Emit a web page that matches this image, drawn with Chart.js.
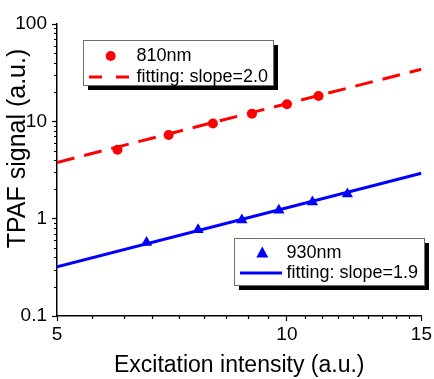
<!DOCTYPE html>
<html>
<head>
<meta charset="utf-8">
<script src="https://cdn.jsdelivr.net/npm/chart.js@4/dist/chart.umd.min.js"></script>
<style>
  html, body { margin: 0; padding: 0; background: #fff; }
  #wrap { width: 434px; height: 379px; }
</style>
</head>
<body>
<div id="wrap"><canvas id="c" width="434" height="379"></canvas></div>
<script>
// ---- data ----
const x810 = [6, 7, 8, 9, 10, 11];
const y810 = [5.1, 7.25, 9.5, 12.0, 15.0, 18.2];
const x930 = [6.55, 7.65, 8.73, 9.76, 10.8, 12.0];
const y930 = [0.57, 0.77, 0.97, 1.22, 1.48, 1.79];
const fitX = [5, 15];
const fit810 = [3.78, 34.3];
const fit930 = [0.32, 2.93];
const xTickLabels = ['5', '10', '15'];
const xMajor = [5, 10, 15];
const yTickLabels = ['0.1', '1', '10', '100'];
const yMajor = [0.1, 1, 10, 100];
const legend1 = ['810nm', 'fitting: slope=2.0'];
const legend2 = ['930nm', 'fitting: slope=1.9'];
const xTitle = 'Excitation intensity (a.u.)';
const yTitle = 'TPAF signal (a.u.)';

const FONT = '"Liberation Sans", Arial, sans-serif';
const RED = '#ff0000', BLUE = '#0000ff';

const pts = (xs, ys) => xs.map((x, i) => ({x: x, y: ys[i]}));

// x ticks: 5..15 with 9 sub-divisions per 5 units
const xTicks = [];
for (let k = 0; k <= 18; k++) xTicks.push(5 + k * 5 / 9);
// y ticks: log decades with minors
const yTicks = [];
yMajor.forEach((p, i) => {
  yTicks.push(p);
  if (i < yMajor.length - 1) for (let m = 2; m <= 9; m++) yTicks.push(m * p);
});
const isYMajor = v => yMajor.some(p => Math.abs(v - p) / p < 1e-6);
const isXMajor = v => xMajor.some(p => Math.abs(v - p) < 1e-6);

const minorTicks = {
  id: 'minorTicks',
  afterDraw(chart) {
    const {ctx, chartArea: a, scales: {x, y}} = chart;
    ctx.save();
    ctx.strokeStyle = '#000';
    ctx.lineWidth = 1.2;
    ctx.beginPath();
    yTicks.forEach(v => {
      if (isYMajor(v)) return;
      const py = Math.round(y.getPixelForValue(v)) + 0.5;
      ctx.moveTo(a.left - 3, py); ctx.lineTo(a.left, py);
    });
    xTicks.forEach(v => {
      if (isXMajor(v)) return;
      const px = Math.round(x.getPixelForValue(v)) + 0.5;
      ctx.moveTo(px, a.bottom); ctx.lineTo(px, a.bottom + 3);
    });
    ctx.stroke();
    // y title
    ctx.fillStyle = '#000';
    ctx.font = '25px ' + FONT;
    ctx.textAlign = 'center';
    ctx.textBaseline = 'middle';
    ctx.translate(18.5, 148.5);
    ctx.rotate(-Math.PI / 2);
    ctx.fillText(yTitle, 0, 0);
    ctx.restore();
  }
};

function drawBox(ctx, x, y, w, h) {
  ctx.fillStyle = '#000';
  ctx.fillRect(x + 5, y + 5, w, h);
  ctx.fillStyle = '#fff';
  ctx.fillRect(x, y, w, h);
  ctx.strokeStyle = '#6e6e6e';
  ctx.lineWidth = 1;
  ctx.strokeRect(x + 0.5, y + 0.5, w, h);
}

const legends = {
  id: 'legends',
  afterDraw(chart) {
    const ctx = chart.ctx;
    ctx.save();
    ctx.font = '18px ' + FONT;
    ctx.textBaseline = 'middle';
    ctx.textAlign = 'left';
    // legend 1
    drawBox(ctx, 83, 40, 190, 45);
    ctx.fillStyle = RED;
    ctx.beginPath(); ctx.arc(110.7, 56, 5, 0, Math.PI * 2); ctx.fill();
    ctx.strokeStyle = RED; ctx.lineWidth = 3; ctx.setLineDash([13, 14]);
    ctx.beginPath(); ctx.moveTo(89, 77); ctx.lineTo(129, 77); ctx.stroke();
    ctx.setLineDash([]);
    ctx.fillStyle = '#000';
    ctx.fillText(legend1[0], 136.5, 56);
    ctx.fillText(legend1[1], 136.5, 77);
    // legend 2
    drawBox(ctx, 234, 238, 190, 47);
    ctx.fillStyle = BLUE;
    ctx.beginPath();
    ctx.moveTo(262.3, 246.5); ctx.lineTo(268.3, 257.5); ctx.lineTo(256.3, 257.5); ctx.closePath(); ctx.fill();
    ctx.strokeStyle = BLUE; ctx.lineWidth = 3;
    ctx.beginPath(); ctx.moveTo(240, 273); ctx.lineTo(282, 273); ctx.stroke();
    ctx.fillStyle = '#000';
    ctx.fillText(legend2[0], 286.5, 253);
    ctx.fillText(legend2[1], 286.5, 273);
    ctx.restore();
  }
};

new Chart(document.getElementById('c'), {
  type: 'scatter',
  data: {
    datasets: [
      { label: legend1[0], data: pts(x810, y810), pointStyle: 'circle', pointRadius: 5,
        backgroundColor: RED, borderColor: RED, borderWidth: 0, showLine: false },
      { label: legend2[0], data: pts(x930, y930), pointStyle: 'triangle', pointRadius: 6.5,
        backgroundColor: BLUE, borderColor: BLUE, borderWidth: 0, showLine: false },
      { label: legend1[1], data: pts(fitX, fit810), showLine: true, pointRadius: 0,
        borderColor: RED, borderWidth: 3, borderDash: [18, 10], fill: false },
      { label: legend2[1], data: pts(fitX, fit930), showLine: true, pointRadius: 0,
        borderColor: BLUE, borderWidth: 3, fill: false }
    ]
  },
  options: {
    responsive: false,
    animation: false,
    events: [],
    layout: { padding: { top: 24, right: 11, bottom: 0, left: 0 } },
    plugins: { legend: { display: false }, tooltip: { enabled: false } },
    scales: {
      x: {
        type: 'logarithmic', min: 5, max: 15,
        afterBuildTicks(s) { s.ticks = xTicks.map(v => ({value: v})); },
        afterFit(s) { s.height = 63; },
        ticks: {
          autoSkip: false, maxRotation: 0, minRotation: 0, padding: 2,
          color: '#000', font: { family: FONT, size: 19 },
          callback(v, i) { return i % 9 === 0 ? xTickLabels[i / 9] : ''; }
        },
        grid: {
          drawOnChartArea: false, drawTicks: true, tickLength: 5, tickWidth: 1.2,
          tickColor: c => (c.tick && isXMajor(c.tick.value)) ? '#000' : 'rgba(0,0,0,0)'
        },
        border: { display: true, color: '#000', width: 1.5 },
        title: { display: true, text: xTitle, color: '#000',
                 font: { family: FONT, size: 23 }, padding: { top: 0, bottom: 0 } }
      },
      y: {
        type: 'logarithmic', min: 0.1, max: 100,
        afterBuildTicks(s) { s.ticks = yTicks.map(v => ({value: v})); },
        afterFit(s) { s.width = 57; },
        ticks: {
          autoSkip: false, padding: 5,
          color: '#000', font: { family: FONT, size: 19 },
          callback(v) {
            const i = yMajor.findIndex(p => Math.abs(v - p) / p < 1e-6);
            return i >= 0 ? yTickLabels[i] : '';
          }
        },
        grid: {
          drawOnChartArea: false, drawTicks: true, tickLength: 5, tickWidth: 1.2,
          tickColor: c => (c.tick && isYMajor(c.tick.value)) ? '#000' : 'rgba(0,0,0,0)'
        },
        border: { display: true, color: '#000', width: 1.5 }
      }
    }
  },
  plugins: [minorTicks, legends]
});
</script>
</body>
</html>
